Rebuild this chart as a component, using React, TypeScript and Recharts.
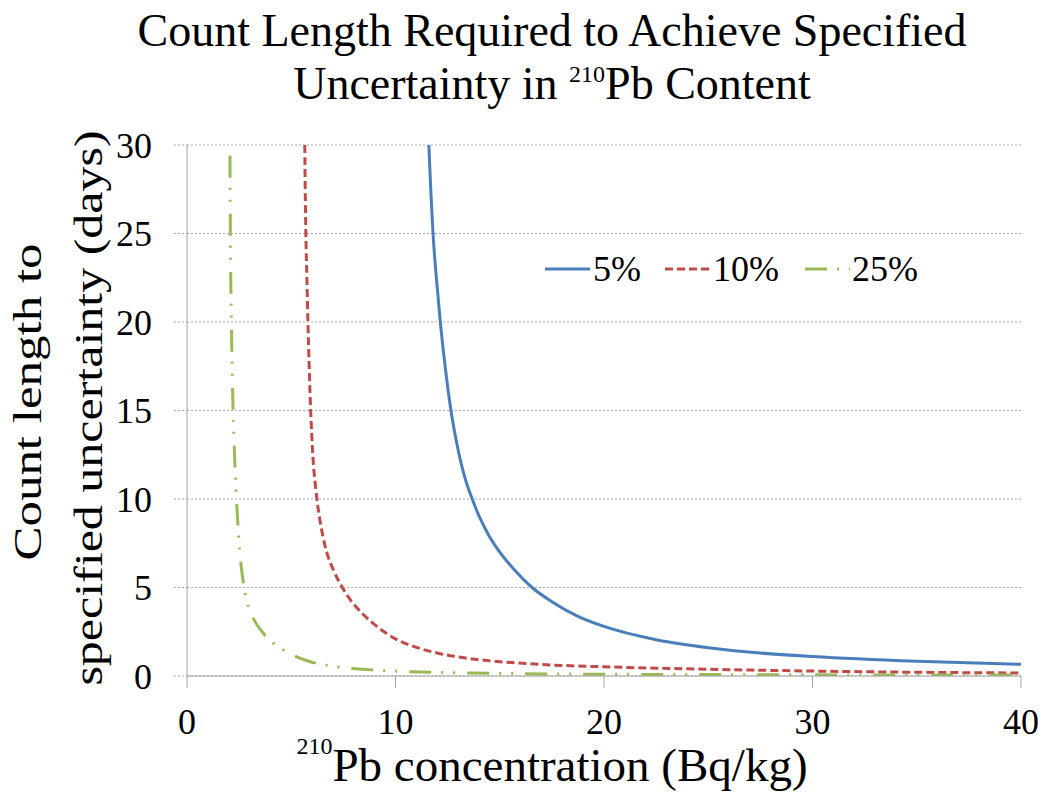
import React from 'react';
import { LineChart, Line, XAxis, YAxis, CartesianGrid } from 'recharts';

const FONT = '"Liberation Serif", "Times New Roman", Times, serif';

// 5% uncertainty series
const blueX = [11.6, 11.69, 11.8, 11.96, 12.15, 12.38, 12.66, 12.88, 13.15, 13.38, 13.68, 14.02, 14.45, 15.0, 15.7, 16.55, 17.5, 18.7, 20, 22.5, 25, 27.5, 30, 35, 40];
const blueY = [30, 27.5, 25, 22.5, 20, 17.5, 15, 13.5, 12, 11, 10, 9, 8, 7, 6, 5, 4.2, 3.4, 2.8, 2.05, 1.6, 1.3, 1.1, 0.83, 0.66];

// 10% uncertainty series
const redX = [5.65, 5.67, 5.7, 5.75, 5.8, 5.86, 5.93, 5.99, 6.06, 6.14, 6.23, 6.35, 6.5, 6.7, 7.02, 7.45, 7.9, 8.35, 9, 10, 11, 12, 13, 14, 15, 17, 20, 25, 30, 35, 40];
const redY = [30, 27.5, 25, 22.5, 20, 17.5, 15, 13.5, 12, 11, 10, 9, 8, 7, 6, 5.0, 4.2, 3.6, 2.9, 2.1, 1.62, 1.3, 1.08, 0.92, 0.81, 0.65, 0.52, 0.38, 0.28, 0.21, 0.17];

// 25% uncertainty series
const greenX = [2.06, 2.08, 2.13, 2.21, 2.28, 2.37, 2.44, 2.5, 2.6, 2.74, 2.95, 3.25, 3.6, 4.0, 4.8, 5.8, 7.0, 8.7, 10.3, 13, 16, 20, 25, 30, 35, 40];
const greenY = [29.4, 25, 20, 15, 12.5, 10, 8.6, 7.5, 6.2, 5, 3.9, 3.1, 2.5, 2.0, 1.35, 0.85, 0.55, 0.36, 0.26, 0.18, 0.13, 0.1, 0.08, 0.065, 0.055, 0.05];

const seriesNames = ['5%', '10%', '25%'];
const xTicks = [0, 10, 20, 30, 40];
const yTicks = [0, 5, 10, 15, 20, 25, 30];

const toRows = (xs: number[], ys: number[]) => xs.map((x, i) => ({ x, y: ys[i] }));
const seriesData = [toRows(blueX, blueY), toRows(redX, redY), toRows(greenX, greenY)];

const COLORS = ['#4a7ebb', '#be4b48', '#98b954'];
const DASHES = [undefined, '8 4', '22 10 2 10 2 12'];
const GRID = '#a6a6a6';

const LegendBlock = () => {
  const lineX = [545, 665, 805];
  const textX = [593, 713, 852];
  const cy = 269;
  return (
    <g>
      {seriesNames.map((n, i) => (
        <g key={n}>
          <line x1={lineX[i]} x2={lineX[i] + 45} y1={cy} y2={cy} stroke={COLORS[i]} strokeWidth={3}
            strokeDasharray={DASHES[i]} />
          <text x={textX[i]} y={cy} dominantBaseline="central" fontFamily={FONT} fontSize={36} fill="#000">{n}</text>
        </g>
      ))}
    </g>
  );
};

export default function App() {
  return (
    <div style={{ position: 'absolute', left: 0, top: 0, width: 1044, height: 796, background: '#fff' }}>
      <LineChart width={1044} height={796} margin={{ top: 145, right: 23, bottom: 60, left: 87 }}>
        <CartesianGrid vertical={false} stroke={GRID} strokeDasharray="2 2" />
        <XAxis dataKey="x" type="number" domain={[0, 40]} ticks={xTicks} allowDataOverflow
          height={60} tickSize={12} tickMargin={20}
          axisLine={{ stroke: GRID }} tickLine={{ stroke: GRID }}
          tick={{ fill: '#000', fontSize: 36, fontFamily: FONT }} />
        <YAxis type="number" domain={[0, 30]} ticks={yTicks} allowDataOverflow
          width={100} tickSize={13} tickMargin={22}
          axisLine={{ stroke: GRID }} tickLine={{ stroke: GRID, strokeDasharray: '2 2' }}
          tick={{ fill: '#000', fontSize: 36, fontFamily: FONT }} />
        {seriesData.map((d, i) => (
          <Line key={seriesNames[i]} data={d} dataKey="y" name={seriesNames[i]} type="monotone"
            stroke={COLORS[i]} strokeWidth={3} strokeDasharray={DASHES[i]}
            dot={false} activeDot={false} isAnimationActive={false} />
        ))}
      </LineChart>
      <svg width={1044} height={796} style={{ position: 'absolute', left: 0, top: 0, pointerEvents: 'none' }}>
        <LegendBlock />
        <g fontFamily={FONT} fill="#000">
          <text x={552} y={46} textAnchor="middle" fontSize={46}>Count Length Required to Achieve Specified</text>
          <text x={552} y={99} textAnchor="middle" fontSize={46}>
            <tspan>Uncertainty in </tspan>
            <tspan fontSize={24} dy={-17}>210</tspan>
            <tspan dy={17}>Pb Content</tspan>
          </text>
          <text x={552} y={781} textAnchor="middle" fontSize={47}>
            <tspan fontSize={24} dy={-27}>210</tspan>
            <tspan dy={27}>Pb concentration (Bq/kg)</tspan>
          </text>
          <text transform="translate(28,402) rotate(-90) scale(1,0.78)" textAnchor="middle" dominantBaseline="central" fontSize={51}>Count length to</text>
          <text transform="translate(89,408) rotate(-90) scale(1,0.78)" textAnchor="middle" dominantBaseline="central" fontSize={50}>specified uncertainty (days)</text>
        </g>
      </svg>
    </div>
  );
}
